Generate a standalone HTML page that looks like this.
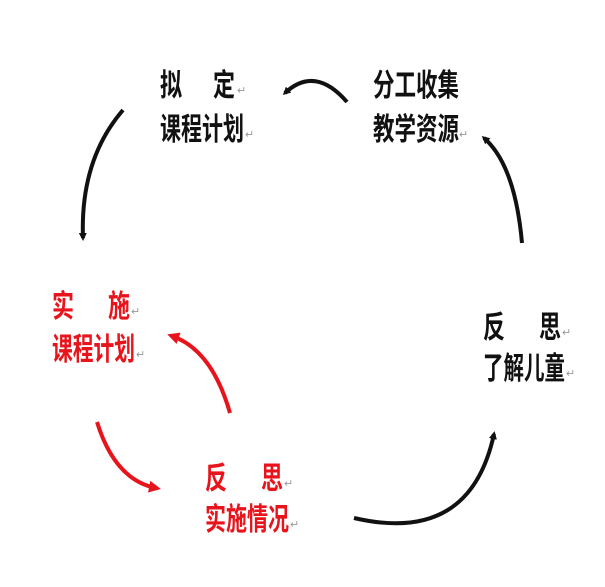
<!DOCTYPE html>
<html><head><meta charset="utf-8"><style>
html,body{margin:0;padding:0;background:#fff}
svg{display:block}
text{font-family:"Liberation Sans","Noto Sans CJK SC",sans-serif;font-size:31px;font-weight:bold}
.r{fill:#e8141c}
.k{fill:#111}
.m{font-size:11px;font-weight:normal;fill:#999}
</style></head><body>
<svg width="605" height="587" viewBox="0 0 605 587" xmlns="http://www.w3.org/2000/svg">
<defs>
<marker id="ab" markerWidth="8" markerHeight="8" refX="5" refY="4" orient="auto" markerUnits="userSpaceOnUse"><path d="M0,0 L8,4 L0,8 Z" fill="#111"/></marker>
<marker id="ar" markerWidth="12" markerHeight="12" refX="7" refY="6" orient="auto" markerUnits="userSpaceOnUse"><path d="M0,0 L12,6 L0,12 Z" fill="#e8141c"/></marker>
</defs>
<path d="M347,102 Q315,65 285,93" fill="none" stroke="#111" stroke-width="4" marker-end="url(#ab)"/>
<path d="M123,110 Q80,160 83,238" fill="none" stroke="#111" stroke-width="4" marker-end="url(#ab)"/>
<path d="M522,243 Q515,165 484,138" fill="none" stroke="#111" stroke-width="4" marker-end="url(#ab)"/>
<path d="M354,518 Q470,545 494,434" fill="none" stroke="#111" stroke-width="4" marker-end="url(#ab)"/>
<path d="M230,413 Q212,350 172,336" fill="none" stroke="#e8141c" stroke-width="4" marker-end="url(#ar)"/>
<path d="M97,422 Q115,480 156,488" fill="none" stroke="#e8141c" stroke-width="4" marker-end="url(#ar)"/>

<text class="k" x="160" y="96" textLength="22" lengthAdjust="spacingAndGlyphs">拟</text>
<text class="k" x="213" y="96" textLength="22" lengthAdjust="spacingAndGlyphs">定</text>
<text class="m" x="237" y="94">↵</text>
<text class="k" x="160" y="140" textLength="84" lengthAdjust="spacingAndGlyphs">课程计划</text>
<text class="m" x="245" y="138">↵</text>

<text class="k" x="373" y="96" textLength="86" lengthAdjust="spacingAndGlyphs">分工收集</text>
<text class="k" x="373" y="140" textLength="86" lengthAdjust="spacingAndGlyphs">教学资源</text>
<text class="m" x="459" y="138">↵</text>

<text class="k" x="483" y="338" textLength="22" lengthAdjust="spacingAndGlyphs">反</text>
<text class="k" x="539" y="338" textLength="22" lengthAdjust="spacingAndGlyphs">思</text>
<text class="m" x="562" y="336">↵</text>
<text class="k" x="483" y="379" textLength="82" lengthAdjust="spacingAndGlyphs">了解儿童</text>
<text class="m" x="566" y="377">↵</text>

<text class="r" x="52" y="317" textLength="22" lengthAdjust="spacingAndGlyphs">实</text>
<text class="r" x="108" y="317" textLength="22" lengthAdjust="spacingAndGlyphs">施</text>
<text class="m" x="131" y="315">↵</text>
<text class="r" x="52" y="360" textLength="83" lengthAdjust="spacingAndGlyphs">课程计划</text>
<text class="m" x="136" y="358">↵</text>

<text class="r" x="205" y="489" textLength="22" lengthAdjust="spacingAndGlyphs">反</text>
<text class="r" x="261" y="489" textLength="22" lengthAdjust="spacingAndGlyphs">思</text>
<text class="m" x="284" y="487">↵</text>
<text class="r" x="205" y="530" textLength="84" lengthAdjust="spacingAndGlyphs">实施情况</text>
<text class="m" x="290" y="528">↵</text>
</svg>
</body></html>
